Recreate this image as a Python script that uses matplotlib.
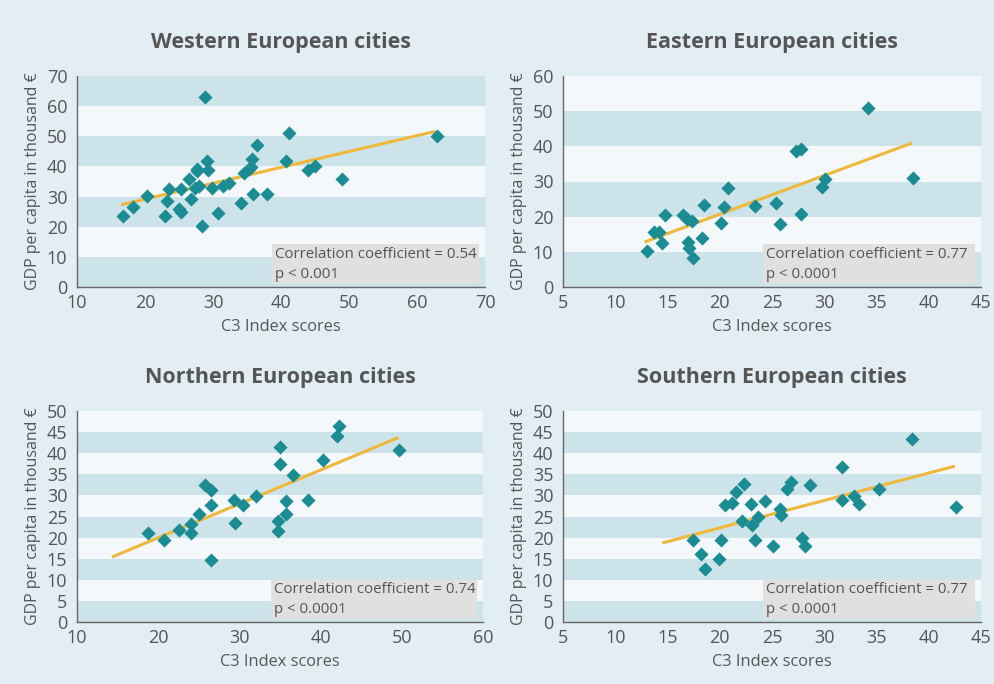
import matplotlib
matplotlib.use('Agg')
import matplotlib.pyplot as plt
from matplotlib.patches import Rectangle
import numpy as np

plt.rcParams['font.family'] = ['Open Sans', 'DejaVu Sans']

# ---- data ----
west_x = [16.7, 18.2, 20.3, 23.0, 23.2, 23.6, 25.0, 25.3, 25.3, 26.4, 26.8, 27.6, 27.7,
          27.4, 28.0, 28.4, 28.8, 29.1, 29.3, 29.9, 30.8, 31.4, 32.4, 34.1, 34.6, 35.3,
          35.7, 35.6, 35.9, 36.4, 37.9, 40.7, 41.2, 43.9, 45.0, 48.9, 63.0]
west_y = [23.6, 26.4, 30.3, 23.6, 28.6, 32.6, 26.0, 24.8, 32.5, 35.8, 29.2, 39.3, 38.4,
          32.8, 33.4, 20.4, 62.9, 41.7, 38.8, 33.0, 24.7, 33.5, 34.5, 28.0, 37.9, 39.0,
          42.4, 39.7, 30.7, 47.1, 30.7, 41.7, 51.0, 38.9, 40.2, 35.8, 50.1]

east_x = [13.0, 13.7, 14.2, 14.5, 14.8, 16.5, 16.9, 17.3, 17.0, 17.1, 17.4, 18.3, 18.5,
          20.1, 20.4, 20.8, 23.4, 25.4, 25.8, 27.3, 27.8, 27.8, 29.8, 30.1, 34.2, 38.5]
east_y = [10.2, 15.5, 15.5, 12.6, 20.6, 20.6, 19.4, 18.8, 12.8, 11.1, 8.3, 14.0, 23.4,
          18.3, 22.8, 28.2, 23.0, 24.0, 17.8, 38.6, 39.1, 20.7, 28.4, 30.6, 50.9, 31.0]

north_x = [18.7, 20.7, 22.6, 24.1, 24.1, 25.0, 25.8, 26.5, 26.5, 26.5, 29.3, 29.5, 30.4,
           32.1, 34.75, 34.75, 34.95, 34.95, 35.7, 35.8, 36.6, 38.4, 40.3, 42.0, 42.3, 49.7]
north_y = [21.1, 19.5, 21.9, 23.2, 21.2, 25.5, 32.5, 31.3, 27.7, 14.6, 29.0, 23.5, 27.8,
           29.8, 24.0, 21.5, 41.5, 37.5, 28.6, 25.5, 34.8, 29.0, 38.3, 44.1, 46.5, 40.7]

south_x = [17.4, 18.2, 18.6, 19.9, 20.1, 20.5, 21.2, 21.6, 22.3, 22.1, 23.0, 23.1, 23.4,
           23.7, 24.3, 25.1, 25.8, 25.9, 26.4, 26.8, 28.6, 27.9, 28.2, 31.7, 31.7, 32.8,
           33.3, 35.2, 38.4, 42.6]
south_y = [19.5, 16.0, 12.6, 14.9, 19.5, 27.8, 28.1, 30.9, 32.8, 23.9, 28.0, 22.9, 19.5,
           24.9, 28.6, 17.9, 26.8, 25.3, 31.6, 33.2, 32.4, 19.8, 18.0, 36.7, 28.9, 29.8,
           28.0, 31.4, 43.3, 27.3]

# fitted trend lines: (x start, x end, slope, intercept)
west_trend = (16.5, 62.7, 0.527, 18.6)
east_trend = (12.8, 38.4, 1.10, -1.3)
north_trend = (14.3, 49.6, 0.803, 3.9)
south_trend = (14.5, 42.5, 0.65, 9.3)

west_stats = ('0.54', '0.001')
east_stats = ('0.77', '0.0001')
north_stats = ('0.74', '0.0001')
south_stats = ('0.77', '0.0001')

BG = '#e2eef4'
BAND_DARK = '#cde3ea'
BAND_LIGHT = '#f4f8fb'
TEAL = '#1b8c94'
GOLD = '#efb83a'
TXT = '#555555'

panels = [
    dict(title='Western European cities', x=west_x, y=west_y, trend=west_trend, stats=west_stats,
         xlim=(10, 70), xstep=10, ylim=(0, 70), ystep=10,
         rect=[77 / 994, 397 / 684, 408 / 994, 211 / 684]),
    dict(title='Eastern European cities', x=east_x, y=east_y, trend=east_trend, stats=east_stats,
         xlim=(5, 45), xstep=5, ylim=(0, 60), ystep=10,
         rect=[563 / 994, 397 / 684, 418 / 994, 211 / 684]),
    dict(title='Northern European cities', x=north_x, y=north_y, trend=north_trend, stats=north_stats,
         xlim=(10, 60), xstep=10, ylim=(0, 50), ystep=5,
         rect=[77 / 994, 62 / 684, 406 / 994, 211 / 684]),
    dict(title='Southern European cities', x=south_x, y=south_y, trend=south_trend, stats=south_stats,
         xlim=(5, 45), xstep=5, ylim=(0, 50), ystep=5,
         rect=[563 / 994, 62 / 684, 418 / 994, 211 / 684]),
]

fig = plt.figure(figsize=(9.94, 6.84), dpi=100, facecolor=BG)

for p in panels:
    ax = fig.add_axes(p['rect'])
    ax.set_facecolor(BG)
    y0, y1 = p['ylim']
    edges = np.arange(y0, y1, p['ystep'])
    for k, e in enumerate(edges):
        ax.axhspan(e, e + p['ystep'], color=BAND_DARK if k % 2 == 0 else BAND_LIGHT,
                   lw=0, zorder=0)

    x0, x1, slope, icpt = p['trend']
    tx = np.array([x0, x1])
    ax.plot(tx, slope * tx + icpt, color=GOLD, lw=2.2, zorder=2, solid_capstyle='butt')
    ax.scatter(p['x'], p['y'], marker='D', s=52, color=TEAL, lw=0, zorder=3)

    ax.set_xlim(*p['xlim'])
    ax.set_ylim(*p['ylim'])
    ax.set_xticks(np.arange(p['xlim'][0], p['xlim'][1] + 0.1, p['xstep']))
    ax.set_yticks(np.arange(y0, y1 + 0.1, p['ystep']))
    ax.tick_params(axis='x', length=0, labelsize=13, colors=TXT, pad=5)
    ax.tick_params(axis='y', length=0, labelsize=13, colors=TXT, pad=7)
    for s in ['top', 'right']:
        ax.spines[s].set_visible(False)
    for s in ['left', 'bottom']:
        ax.spines[s].set_color('#666666')
        ax.spines[s].set_linewidth(1.0)
        ax.spines[s].set_zorder(4)

    ax.set_xlabel('C3 Index scores', fontsize=11.8, color=TXT, labelpad=5)
    ax.set_ylabel('GDP per capita in thousand €', fontsize=11.5, color=TXT, labelpad=4)
    ax.set_title(p['title'], fontsize=15.5, fontweight='bold', color=TXT, pad=20)

    # correlation box
    ax.add_patch(Rectangle((0.478, 0.015), 0.507, 0.19, transform=ax.transAxes,
                           facecolor='#e0e0e0', edgecolor='none', zorder=5))
    ax.text(0.485, 0.155, f'Correlation coefficient = {p["stats"][0]}', transform=ax.transAxes,
            fontsize=10.8, color=TXT, va='center', ha='left', zorder=6)
    ax.text(0.485, 0.06, f'p < {p["stats"][1]}', transform=ax.transAxes,
            fontsize=10.8, color=TXT, va='center', ha='left', zorder=6)

fig.savefig('out.png', dpi=100, facecolor=BG)
